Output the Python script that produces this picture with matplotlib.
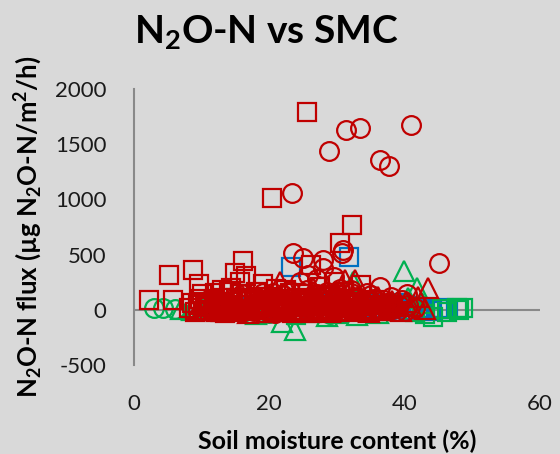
import numpy as np
import matplotlib
matplotlib.use("Agg")
import matplotlib.pyplot as plt

plt.rcParams['font.family'] = ['Lato', 'DejaVu Sans']
plt.rcParams['mathtext.fontset'] = 'custom'
plt.rcParams['mathtext.rm'] = 'Lato'
plt.rcParams['mathtext.bf'] = 'Lato:bold'
plt.rcParams['mathtext.default'] = 'regular'
plt.rcParams['axes.unicode_minus'] = False

# (soil moisture %, flux)
red_sq = [(25.5, 1791), (20.4, 1017), (32.2, 770), (30.4, 604), (16.1, 444), (8.7, 362), (5.1, 317),
          (9.6, 233), (2.2, 90), (5.7, 90), (14.9, 332), (16.6, 302), (15.6, 256), (14.4, 196),
          (26.2, 408), (33.6, 226), (22.5, 180), (27.5, 210), (29.5, 250), (19.0, 230), (12.0, 150),
          (8.1, 20), (9.4, 45), (10.2, -10), (11.0, 60), (11.8, 85), (12.5, 30), (13.1, 110), (13.9, 5),
          (14.6, 70), (15.2, -20), (15.9, 140), (16.7, 40), (17.3, 95), (18.0, 15), (18.8, 55),
          (19.5, -25), (20.1, 120), (20.9, 35), (21.6, 75), (22.3, 0), (23.0, 150), (23.8, 25),
          (24.4, 65), (25.1, -15), (25.9, 90), (26.6, 50), (27.2, 10), (28.0, 130), (28.7, 45),
          (29.3, -5), (30.1, 80), (30.8, 20), (31.5, 60), (32.3, 100), (33.0, -20), (33.8, 35),
          (34.5, 70), (35.2, 5), (12.0, 15), (14.0, 160), (17.0, 40), (19.0, 90), (22.0, 55), (24.0, 0),
          (27.0, 30), (29.0, 120), (10.8, 25), (13.5, -30), (16.2, 10), (21.2, -5), (26.0, -25),
          (8.5, 60), (9.0, -20), (9.8, 100), (10.5, 35), (11.3, -5), (12.2, 75), (12.9, 50), (13.7, -15),
          (14.3, 25), (15.0, 105), (15.6, 45), (16.3, -10), (17.0, 80), (17.6, 0), (18.4, 115),
          (19.1, 30), (19.8, 65), (20.5, -15), (21.3, 95), (22.0, 15), (22.8, 40), (23.4, -25),
          (24.1, 110), (24.8, 30), (25.5, 70), (26.2, -5), (27.0, 100), (27.7, 35), (28.4, -20),
          (29.1, 70), (29.8, 25), (30.5, 130), (31.2, -10), (31.9, 45), (32.6, 15), (33.3, 75),
          (34.0, -5), (34.8, 40), (35.6, 90), (36.3, 10), (37.0, -15), (37.8, 45), (10.0, 140),
          (13.0, 180), (18.0, 160), (21.0, 190), (25.0, 140), (31.0, 160)]
red_circle = [(31.4, 1624), (33.4, 1646), (41.0, 1676), (28.8, 1434), (36.4, 1356), (37.7, 1298),
              (23.4, 1057), (23.5, 513), (30.9, 543), (30.7, 513), (28.0, 453), (25.0, 468), (28.0, 378),
              (25.7, 317), (45.0, 423), (36.3, 211), (40.3, 142), (19.0, 154), (24.6, 250), (27.0, 280),
              (29.5, 300), (32.0, 180), (34.5, 150), (38.0, 120),
              (10.5, 30), (12.0, -5), (13.6, 50), (15.0, 20), (16.4, 80), (17.7, -15), (18.9, 45),
              (20.2, 100), (21.4, 10), (22.6, 60), (23.9, -20), (25.1, 35), (26.3, 90), (27.6, 0),
              (28.8, 55), (30.0, 115), (31.2, 25), (32.5, -10), (33.7, 70), (34.9, 40), (36.1, -5),
              (37.3, 60), (38.5, 20), (39.6, 85), (19.5, 10), (21.0, 70), (24.0, 40), (26.8, -15),
              (29.2, 20), (31.8, 85), (34.0, 5), (36.8, 30), (38.9, -10), (40.5, 45), (41.5, 15),
              (17.0, 115), (22.0, 130), (27.0, 140), (33.0, 120), (35.5, 95), (28.5, 160), (30.5, 190),
              (25.5, 175),
              (11.0, 60), (12.8, 20), (14.2, -20), (15.8, 100), (17.2, 35), (18.2, -5), (19.9, 70),
              (20.8, -25), (22.1, 30), (23.2, 95), (24.5, -5), (25.8, 60), (26.9, 20), (28.1, 100),
              (29.6, -20), (30.6, 60), (31.9, 10), (33.1, 40), (34.4, -15), (35.6, 55), (36.9, 90),
              (37.9, 5), (39.2, 40), (40.1, -10), (16.0, 140), (20.5, 150), (23.0, 170), (26.0, 120),
              (32.0, 150), (35.0, 130), (18.5, 25), (24.8, 85), (29.9, 45), (34.9, -20), (38.2, 25)]
red_tri = [(21.6, 256), (31.2, 272), (32.6, 272), (43.5, 196), (42.0, 120), (26.5, 200),
           (9.5, 10), (11.5, 40), (13.0, -15), (15.5, 60), (17.5, 25), (19.8, -20), (21.8, 50),
           (23.5, 90), (25.8, 5), (27.8, 65), (29.8, -10), (31.6, 40), (33.5, 100), (35.5, 15),
           (37.5, 55), (39.5, -15), (41.0, 30), (43.0, 5), (14.2, 95), (18.5, 70), (24.8, -5),
           (28.2, 110), (34.8, -20), (38.2, 80),
           (10.3, 70), (12.3, -10), (14.8, 30), (16.9, -25), (18.9, 100), (20.6, 30), (22.7, -10),
           (24.2, 60), (26.8, 40), (28.9, -20), (30.9, 85), (32.8, 20), (34.2, 60), (36.4, -5),
           (38.9, 35), (40.2, 70), (16.0, 130), (22.0, 140), (30.0, 150), (36.0, 120)]
blue_sq = [(31.8, 474), (23.2, 392), (42.5, 18), (43.7, 18), (45.7, 18), (44.9, 5), (46.4, 10),
           (41.2, 25), (40.0, 40), (38.8, 10), (37.5, 30), (36.0, 55), (34.5, 20), (30.0, 35),
           (27.0, 50), (20.0, 15), (15.0, 25), (44.0, -10), (42.0, -5), (39.5, 60)]
blue_circle = [(35.0, 60), (37.0, 45), (33.5, 80), (39.0, 25), (41.0, 40), (29.0, 70), (24.0, 30),
               (38.0, -5), (36.5, 15)]
blue_tri = [(34.0, 40), (38.5, 50), (40.8, 10), (26.0, 20)]
green_tri = [(39.9, 353), (41.8, 196), (32.4, 256), (21.8, -106), (23.8, -181), (7.0, 10), (8.5, -5),
             (10.0, 20), (12.0, 0), (18.0, -40), (28.5, -60), (33.0, -45), (40.5, 110), (42.5, 60),
             (26.0, -20), (36.0, -30)]
green_circle = [(2.9, 18), (4.3, 18), (6.0, 5), (9.0, -10), (11.5, 15), (20.0, -30), (29.0, -35),
                (35.0, 70), (38.0, 60)]
green_sq = [(48.6, 15), (47.7, 15), (44.2, -61), (46.2, -20), (45.5, 5), (43.0, -40), (41.5, -20),
            (48.0, -5), (24.0, -50), (30.0, -40)]

blue = '#0070C0'
green = '#00B050'
red = '#C00000'
bg = '#D9D9D9'

fig = plt.figure(figsize=(5.6, 4.54), dpi=100, facecolor=bg)
ax = fig.add_axes([0.2393, 0.196, 0.7250, 0.608], facecolor=bg)

series = [(blue_sq, blue, 's'), (blue_circle, blue, 'o'), (blue_tri, blue, '^'),
          (green_sq, green, 's'), (green_circle, green, 'o'), (green_tri, green, '^'),
          (red_sq, red, 's'), (red_circle, red, 'o'), (red_tri, red, '^')]
for pts, col, mk in series:
    xy = np.array(pts)
    ax.plot(xy[:, 0], xy[:, 1], linestyle='none', marker=mk, markersize=13.5 if mk != '^' else 14,
            markerfacecolor='none', markeredgecolor=col, markeredgewidth=1.6)

ax.set_xlim(0, 60)
ax.set_ylim(-500, 2000)
ax.set_xticks([0, 20, 40, 60])
ax.set_yticks([-500, 0, 500, 1000, 1500, 2000])
ax.axhline(0, color='#898989', lw=1.5, zorder=0)
for s in ['top', 'right', 'bottom']:
    ax.spines[s].set_visible(False)
ax.spines['left'].set_color('#898989')
ax.spines['left'].set_linewidth(1.5)
ax.tick_params(length=0, labelsize=16, colors='#1a1a1a')
ax.tick_params(axis='y', pad=20)
ax.tick_params(axis='x', pad=21)

fig.text(0.475, 0.905, r'N$_\mathbf{2}$O-N vs SMC', ha='center', va='baseline', fontsize=28, fontweight='bold')
ax.set_xlabel('Soil moisture content (%)', fontsize=18, fontweight='bold', labelpad=11)
ax.set_ylabel(r'N$_\mathbf{2}$O-N flux (µg N$_\mathbf{2}$O-N/m$^\mathbf{2}$/h)', fontsize=18.5,
              fontweight='bold', labelpad=8)

fig.savefig('out.png', dpi=100, facecolor=bg)
